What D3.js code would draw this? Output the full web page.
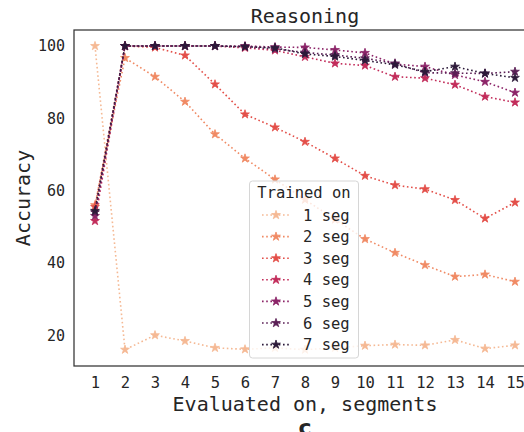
<!DOCTYPE html>
<html><head><meta charset="utf-8">
<script src="https://cdn.jsdelivr.net/npm/d3@7"></script>
<style>body{margin:0;background:#fff}svg{display:block}</style>
</head><body>
<svg id="c" width="524" height="432"></svg>
<script>
const segments = [1,2,3,4,5,6,7,8,9,10,11,12,13,14,15];
const seriesNames = ["1 seg","2 seg","3 seg","4 seg","5 seg","6 seg","7 seg"];
const seg1 = [100,16.0,20.0,18.4,16.5,16.1,16.5,16.0,16.5,17.1,17.4,17.2,18.7,16.3,17.2];
const seg2 = [56,96.7,91.5,84.6,75.6,68.9,63.1,57.5,52,46.6,42.8,39.4,36.2,36.8,34.8];
const seg3 = [55.5,100,99.6,97.4,89.4,81.1,77.5,73.5,68.9,64.1,61.5,60.4,57.4,52.3,56.7];
const seg4 = [51.6,100,100,100,100,99.5,98.8,97.0,95.2,94.6,91.5,91.1,89.3,86.0,84.4];
const seg5 = [53,100,100,100,100,100,99.7,99.6,98.9,98.1,95.0,94.3,92.0,90.1,87.1];
const seg6 = [54,100,100,100,100,99.8,99.2,98.2,97.5,96.6,95.2,92.6,92.5,92.4,92.9];
const seg7 = [54.4,100,100,100,100,99.8,99.5,97.8,97.1,96.0,94.8,92.9,94.3,92.4,91.2];
const allSeries = [seg1,seg2,seg3,seg4,seg5,seg6,seg7];
const colors = ["#f5b994","#f08a64","#e34f49","#c22c5a","#8c2468","#5a1f55","#2c1939"];
const yTicks = [20,40,60,80,100];

const svg = d3.select("#c");
const font = "DejaVu Sans Mono";
const x = d3.scaleLinear().domain([1,15]).range([95,515]);
const y = d3.scaleLinear().domain([20,100]).range([335.2,46]);
const L=74, R=536, T=30, B=366;

// frame
svg.append("rect").attr("x",L).attr("y",T).attr("width",R-L).attr("height",B-T)
  .attr("fill","none").attr("stroke","#333").attr("stroke-width",1.25);

// axes (labels only, no tick marks)
const xAxis = svg.append("g").attr("transform",`translate(0,${B})`)
  .call(d3.axisBottom(x).tickValues(segments).tickSize(0).tickPadding(11));
xAxis.select(".domain").remove();
xAxis.selectAll("text").attr("font-family",font).attr("font-size",15.5).attr("fill","#262626");
const yAxis = svg.append("g").attr("transform",`translate(${L},0)`)
  .call(d3.axisLeft(y).tickValues(yTicks).tickSize(0).tickPadding(9));
yAxis.select(".domain").remove();
yAxis.selectAll("text").attr("font-family",font).attr("font-size",15).attr("fill","#262626");

// titles
svg.append("text").attr("x",305).attr("y",23).attr("text-anchor","middle")
  .attr("font-family",font).attr("font-size",20).attr("fill","#262626").text("Reasoning");
svg.append("text").attr("x",305).attr("y",411).attr("text-anchor","middle")
  .attr("font-family",font).attr("font-size",20).attr("fill","#262626").text("Evaluated on, segments");
svg.append("text").attr("transform","translate(30,198) rotate(-90)").attr("text-anchor","middle")
  .attr("font-family",font).attr("font-size",20).attr("fill","#262626").text("Accuracy");
svg.append("text").attr("x",305).attr("y",435).attr("text-anchor","middle")
  .attr("font-family","DejaVu Sans").attr("font-weight","bold").attr("font-size",22).attr("fill","#262626").text("c");

// series
const line = d3.line().x((d,i)=>x(segments[i])).y(d=>y(d));
const star = d3.symbol().type(d3.symbolStar).size(24);
allSeries.forEach((s,k)=>{
  const g = svg.append("g");
  g.append("path").attr("d",line(s)).attr("fill","none").attr("stroke",colors[k])
    .attr("stroke-width",1.6).attr("stroke-dasharray","1.6,2.6");
  g.selectAll("path.m").data(s).join("path").attr("class","m")
    .attr("transform",(d,i)=>`translate(${x(segments[i])},${y(d)})`)
    .attr("d",star).attr("fill",colors[k]).attr("stroke",colors[k]).attr("stroke-width",0.8);
});

// legend
const lg = svg.append("g");
lg.append("rect").attr("x",249.5).attr("y",181).attr("width",109).attr("height",177).attr("rx",3)
  .attr("fill","white").attr("fill-opacity",0.8).attr("stroke","#d6d6d6").attr("stroke-width",1);
lg.append("text").attr("x",304).attr("y",198).attr("text-anchor","middle")
  .attr("font-family",font).attr("font-size",15.5).attr("fill","#262626").text("Trained on");
seriesNames.forEach((n,k)=>{
  const cy = 215 + k*21.6;
  lg.append("line").attr("x1",262).attr("x2",291).attr("y1",cy).attr("y2",cy)
    .attr("stroke",colors[k]).attr("stroke-width",1.6).attr("stroke-dasharray","1.6,2.6");
  lg.append("path").attr("transform",`translate(276,${cy})`).attr("d",star)
    .attr("fill",colors[k]).attr("stroke",colors[k]).attr("stroke-width",0.8);
  lg.append("text").attr("x",303).attr("y",cy+5.5).attr("font-family",font).attr("font-size",15.5)
    .attr("fill","#262626").text(n);
});
</script>
</body></html>
